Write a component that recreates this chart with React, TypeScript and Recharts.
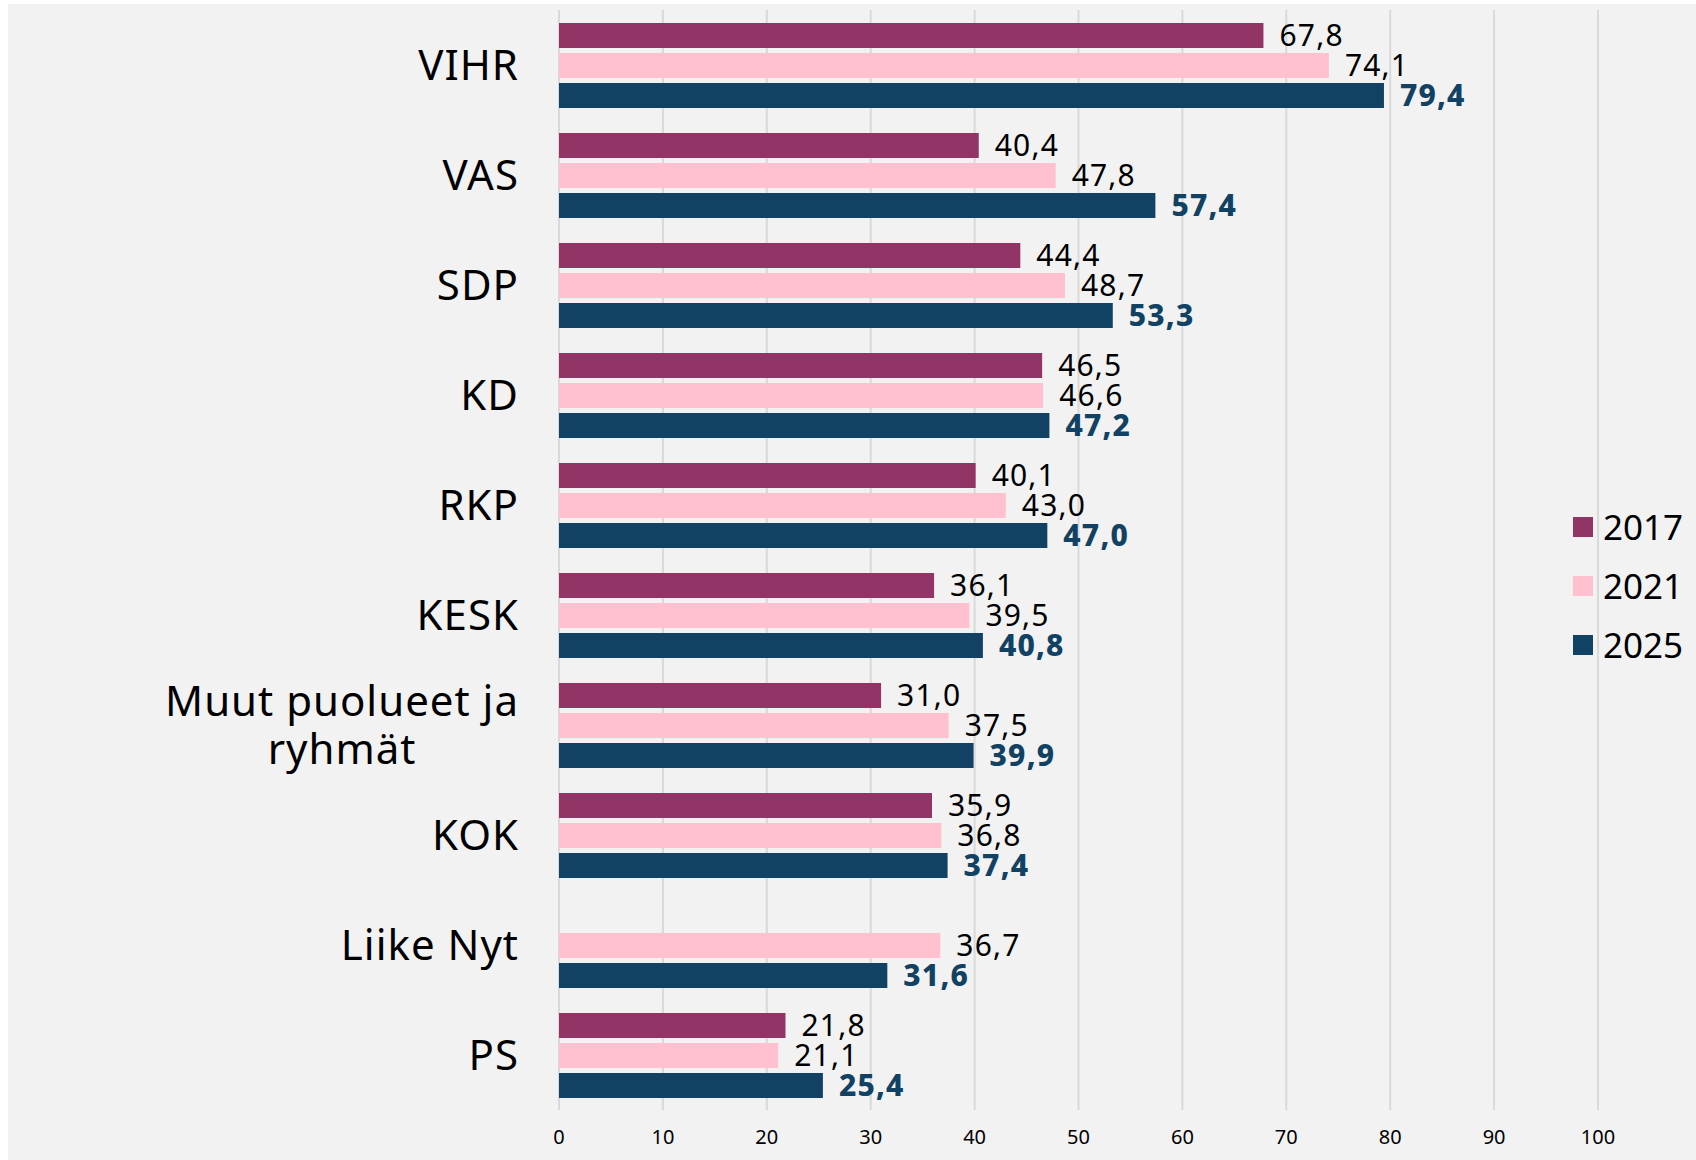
import React from 'react';
import { BarChart, Bar, XAxis, YAxis, CartesianGrid, LabelList } from 'recharts';

const parties = [
  'VIHR',
  'VAS',
  'SDP',
  'KD',
  'RKP',
  'KESK',
  'Muut puolueet ja ryhmät',
  'KOK',
  'Liike Nyt',
  'PS',
];
const v2017 = [67.8, 40.4, 44.4, 46.5, 40.1, 36.1, 31.0, 35.9, null, 21.8];
const v2021 = [74.1, 47.8, 48.7, 46.6, 43.0, 39.5, 37.5, 36.8, 36.7, 21.1];
const v2025 = [79.4, 57.4, 53.3, 47.2, 47.0, 40.8, 39.9, 37.4, 31.6, 25.4];
const years = ['2017', '2021', '2025'];
const xTicks = [0, 10, 20, 30, 40, 50, 60, 70, 80, 90, 100];

const COLORS = ['#923466', '#ffc0cf', '#124263'];
const FONT = '"Noto Sans", sans-serif';

const data = parties.map((name, i) => ({
  name,
  y2017: v2017[i],
  y2021: v2021[i],
  y2025: v2025[i],
}));

const fmt = (v: any) => (v == null ? '' : Number(v).toFixed(1).replace('.', ','));

const LABEL_SIZE = 42;
const LABEL_SPACING = 1;

function measure(text: string, size: number) {
  const ctx = document.createElement('canvas').getContext('2d');
  if (!ctx) return text.length * size * 0.55;
  ctx.font = `${size}px "Noto Sans"`;
  return ctx.measureText(text).width + text.length * LABEL_SPACING;
}

function splitLabel(text: string) {
  const words = text.split(' ');
  if (words.length < 3) return [text];
  return [words.slice(0, -1).join(' '), words[words.length - 1]];
}

function PartyTick(props: any) {
  const { x, y, payload } = props;
  const lines = splitLabel(payload.value);
  const common = {
    fontSize: LABEL_SIZE,
    fontFamily: FONT,
    fill: '#000',
    letterSpacing: LABEL_SPACING,
  };
  if (lines.length === 1) {
    return (
      <text x={x} y={y} dy="0.35em" textAnchor="end" {...common}>
        {payload.value}
      </text>
    );
  }
  const cx = x - measure(lines[0], LABEL_SIZE) / 2;
  return (
    <text textAnchor="middle" {...common}>
      {lines.map((l, i) => (
        <tspan key={i} x={cx} y={y + (i - (lines.length - 1) / 2) * 48} dy="0.35em">
          {l}
        </tspan>
      ))}
    </text>
  );
}

function YearLegend() {
  return (
    <div style={{ position: 'absolute', left: 1573, top: 497, fontFamily: FONT }}>
      {years.map((y, i) => (
        <div key={y} style={{ display: 'flex', alignItems: 'center', height: 59 }}>
          <span style={{ width: 20, height: 20, background: COLORS[i], marginRight: 10, display: 'inline-block' }} />
          <span style={{ fontSize: 35, color: '#000' }}>{y}</span>
        </div>
      ))}
    </div>
  );
}

const valueLabel = { fontSize: 30, fontFamily: FONT, letterSpacing: 1.2 };

export default function App() {
  return (
    <div style={{ position: 'absolute', left: 0, top: 0, width: 1696, height: 1160, background: '#fff' }}>
      <div style={{ position: 'absolute', left: 8, top: 4, width: 1688, height: 1156, background: '#f2f2f2' }} />
      <div style={{ position: 'absolute', left: 0, top: 0 }}>
        <BarChart
          width={1696}
          height={1160}
          data={data}
          layout="vertical"
          margin={{ top: 10, right: 98, bottom: 0, left: 0 }}
          barSize={25}
          barGap={5}
        >
          <CartesianGrid horizontal={false} stroke="#d9d9d9" strokeWidth={2} />
          <XAxis
            type="number"
            domain={[0, 100]}
            ticks={xTicks}
            axisLine={false}
            tickLine={false}
            tickSize={0}
            tickMargin={20}
            height={50}
            tick={{ fontSize: 20, fill: '#000', fontFamily: FONT }}
          />
          <YAxis
            type="category"
            dataKey="name"
            width={559}
            axisLine={false}
            tickLine={false}
            tickSize={0}
            tickMargin={40}
            interval={0}
            tick={<PartyTick />}
          />
          <Bar dataKey="y2017" name="2017" fill={COLORS[0]} isAnimationActive={false}>
            <LabelList dataKey="y2017" position="right" offset={16} formatter={fmt} fill="#000" {...valueLabel} />
          </Bar>
          <Bar dataKey="y2021" name="2021" fill={COLORS[1]} isAnimationActive={false}>
            <LabelList dataKey="y2021" position="right" offset={16} formatter={fmt} fill="#000" {...valueLabel} />
          </Bar>
          <Bar dataKey="y2025" name="2025" fill={COLORS[2]} isAnimationActive={false}>
            <LabelList
              dataKey="y2025"
              position="right"
              offset={16}
              formatter={fmt}
              fill={COLORS[2]}
              fontWeight={800}
              {...valueLabel}
            />
          </Bar>
        </BarChart>
      </div>
      <YearLegend />
    </div>
  );
}
